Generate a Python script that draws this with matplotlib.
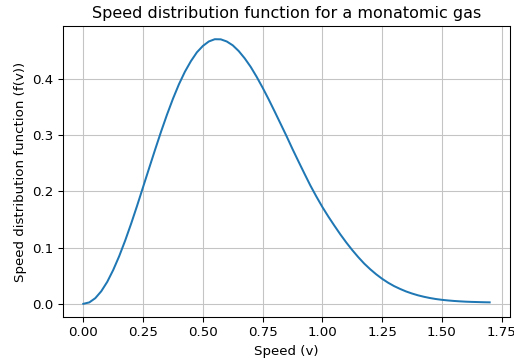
import numpy as np
import matplotlib
matplotlib.use("Agg")
import matplotlib.pyplot as plt

# values, every 0.025 in speed
speed = [round(0.025 * i, 3) for i in range(69)]
f_speed = [0.0000, 0.0025, 0.0100, 0.0223, 0.0390, 0.0601, 0.0846, 0.1123, 0.1424, 0.1743,
           0.2075, 0.2406, 0.2735, 0.3056, 0.3360, 0.3643, 0.3900, 0.4123, 0.4310, 0.4467,
           0.4580, 0.4660, 0.4700, 0.4698, 0.4660, 0.4592, 0.4490, 0.4361, 0.4210, 0.4033,
           0.3840, 0.3635, 0.3420, 0.3200, 0.2980, 0.2750, 0.2530, 0.2313, 0.2100, 0.1905,
           0.1720, 0.1550, 0.1390, 0.1235, 0.1090, 0.0955, 0.0830, 0.0715, 0.0615, 0.0525,
           0.0445, 0.0375, 0.0315, 0.0265, 0.0220, 0.0183, 0.0151, 0.0125, 0.0103, 0.0085,
           0.0071, 0.0060, 0.0051, 0.0044, 0.0038, 0.0034, 0.0031, 0.0028, 0.0026]

fig = plt.figure(figsize=(514/96, 364/96), dpi=96)
plt.subplots_adjust(left=0.1226, right=0.9922, top=0.9286, bottom=0.129)
ax = fig.add_subplot(111)

ax.plot(speed, f_speed, color="#1f77b4")
ax.set_title("Speed distribution function for a monatomic gas")
ax.set_xlabel("Speed (v)")
ax.set_ylabel("Speed distribution function (f(v))")
ax.set_xticks(np.arange(0, 1.76, 0.25))
ax.grid(True, color="#c4c4c4")

plt.savefig("out.png", dpi=96)
